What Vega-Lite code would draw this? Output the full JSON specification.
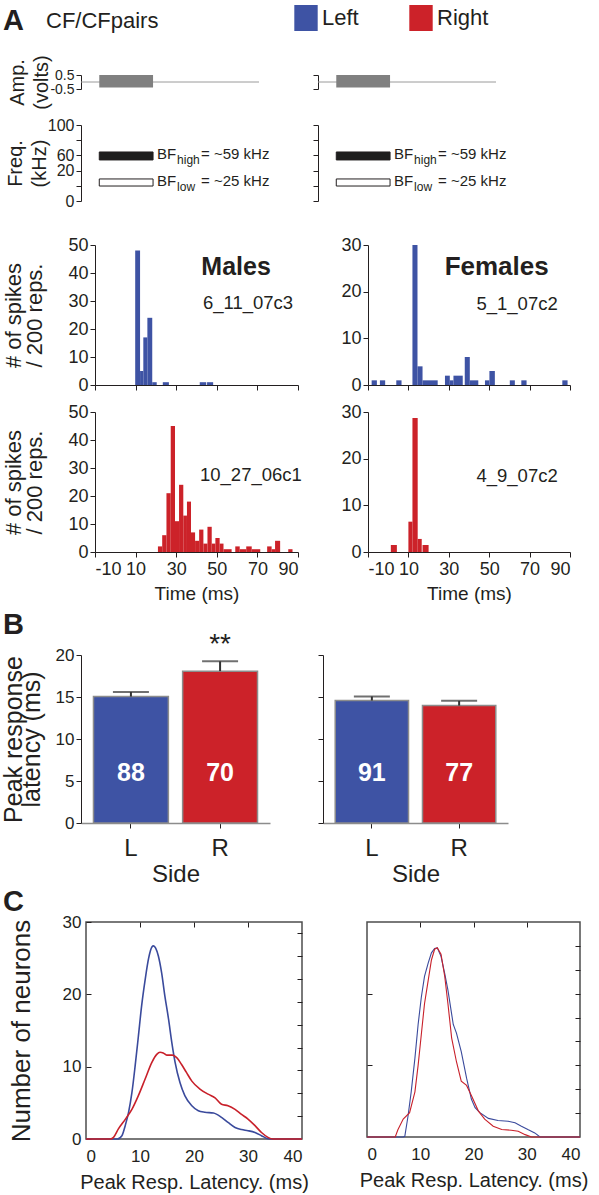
{
  "$schema": "https://vega.github.io/schema/vega-lite/v6.json",
  "padding": 0,
  "background": "white",
  "spacing": 0,
  "datasets": {
    "one": [{}],
    "stim": [
      {"part": "line", "start": -17, "end": 70.7, "lo": 0, "hi": 0},
      {"part": "tone", "start": -8, "end": 18.5, "lo": -0.4, "hi": 0.5}
    ],
    "freq": [
      {"band": "high", "start": -8, "end": 18.5, "lo": 54, "hi": 64.5, "mid": 59.2, "sub": "high", "rest": "= ~59 kHz"},
      {"band": "low", "start": -8, "end": 18.5, "lo": 19.7, "hi": 29, "mid": 24.3, "sub": "low", "rest": "= ~25 kHz"}
    ],
    "hist_m_top": [
      {"start": 9.8, "end": 12.2, "count": 48},
      {"start": 12.2, "end": 13.8, "count": 5},
      {"start": 13.8, "end": 15.8, "count": 17},
      {"start": 15.8, "end": 18.2, "count": 24},
      {"start": 18.2, "end": 20.4, "count": 1},
      {"start": 23.4, "end": 26.4, "count": 1},
      {"start": 41.6, "end": 44.8, "count": 1},
      {"start": 45.2, "end": 48.2, "count": 1}
    ],
    "hist_f_top": [
      {"start": -8.2, "end": -5.6, "count": 1},
      {"start": -4.1, "end": -1.5, "count": 1},
      {"start": 4.0, "end": 6.6, "count": 1},
      {"start": 12.0, "end": 14.5, "count": 30},
      {"start": 14.5, "end": 17.0, "count": 4},
      {"start": 17.0, "end": 24.5, "count": 1},
      {"start": 28.1, "end": 30.5, "count": 2},
      {"start": 30.5, "end": 32.3, "count": 1},
      {"start": 32.3, "end": 36.9, "count": 2},
      {"start": 37.9, "end": 40.4, "count": 6},
      {"start": 40.4, "end": 44.6, "count": 1},
      {"start": 47.9, "end": 50.1, "count": 1},
      {"start": 50.1, "end": 52.8, "count": 3},
      {"start": 60.2, "end": 62.7, "count": 1},
      {"start": 65.9, "end": 68.5, "count": 1},
      {"start": 86.2, "end": 88.8, "count": 1}
    ],
    "hist_m_bot": [
      {"start": 21.0, "end": 23.1, "count": 2},
      {"start": 23.1, "end": 25.2, "count": 6},
      {"start": 25.2, "end": 27.3, "count": 21},
      {"start": 27.3, "end": 29.4, "count": 45},
      {"start": 29.4, "end": 31.4, "count": 11},
      {"start": 31.4, "end": 33.5, "count": 24},
      {"start": 33.5, "end": 35.3, "count": 13},
      {"start": 35.3, "end": 37.3, "count": 18},
      {"start": 37.3, "end": 39.3, "count": 7},
      {"start": 39.3, "end": 41.3, "count": 4},
      {"start": 41.3, "end": 43.4, "count": 8},
      {"start": 43.4, "end": 45.4, "count": 3},
      {"start": 45.4, "end": 47.5, "count": 9},
      {"start": 47.5, "end": 49.3, "count": 3},
      {"start": 49.3, "end": 51.4, "count": 5},
      {"start": 51.4, "end": 53.3, "count": 3},
      {"start": 53.3, "end": 57.3, "count": 1},
      {"start": 59.1, "end": 61.3, "count": 2},
      {"start": 61.3, "end": 64.5, "count": 1},
      {"start": 64.5, "end": 67.2, "count": 2},
      {"start": 67.2, "end": 71.4, "count": 1},
      {"start": 74.8, "end": 77.0, "count": 2},
      {"start": 77.0, "end": 78.7, "count": 1},
      {"start": 78.7, "end": 81.2, "count": 4},
      {"start": 85.2, "end": 87.3, "count": 1}
    ],
    "hist_f_bot": [
      {"start": 1.3, "end": 4.3, "count": 1.5},
      {"start": 10.0, "end": 12.0, "count": 6.5},
      {"start": 12.0, "end": 14.6, "count": 28.7},
      {"start": 14.6, "end": 16.6, "count": 2.8},
      {"start": 17.0, "end": 20.0, "count": 1.5}
    ],
    "latency": [
      {"sex": "M", "side": "L", "hemi": "Left", "mean": 15.05, "upper": 15.6, "n": "88", "sig": ""},
      {"sex": "M", "side": "R", "hemi": "Right", "mean": 18.08, "upper": 19.25, "n": "70", "sig": "**"},
      {"sex": "F", "side": "L", "hemi": "Left", "mean": 14.58, "upper": 15.06, "n": "91", "sig": ""},
      {"sex": "F", "side": "R", "hemi": "Right", "mean": 13.98, "upper": 14.54, "n": "77", "sig": ""}
    ],
    "curves": [
      {"sex": "M", "hemi": "Left", "t": 0, "n": 0},
      {"sex": "M", "hemi": "Left", "t": 5.8, "n": 0},
      {"sex": "M", "hemi": "Left", "t": 6.65, "n": 0.46},
      {"sex": "M", "hemi": "Left", "t": 7.26, "n": 1.84},
      {"sex": "M", "hemi": "Left", "t": 7.88, "n": 3.67},
      {"sex": "M", "hemi": "Left", "t": 8.5, "n": 6.4},
      {"sex": "M", "hemi": "Left", "t": 9.1, "n": 10.1},
      {"sex": "M", "hemi": "Left", "t": 9.7, "n": 14.2},
      {"sex": "M", "hemi": "Left", "t": 10.3, "n": 18.4},
      {"sex": "M", "hemi": "Left", "t": 10.95, "n": 22},
      {"sex": "M", "hemi": "Left", "t": 11.6, "n": 25},
      {"sex": "M", "hemi": "Left", "t": 12.2, "n": 26.55},
      {"sex": "M", "hemi": "Left", "t": 12.5, "n": 26.7},
      {"sex": "M", "hemi": "Left", "t": 12.9, "n": 26.4},
      {"sex": "M", "hemi": "Left", "t": 13.4, "n": 25.3},
      {"sex": "M", "hemi": "Left", "t": 14.0, "n": 23},
      {"sex": "M", "hemi": "Left", "t": 14.6, "n": 19.8},
      {"sex": "M", "hemi": "Left", "t": 15.3, "n": 16.5},
      {"sex": "M", "hemi": "Left", "t": 15.9, "n": 13.3},
      {"sex": "M", "hemi": "Left", "t": 16.5, "n": 10.6},
      {"sex": "M", "hemi": "Left", "t": 17.4, "n": 7.8},
      {"sex": "M", "hemi": "Left", "t": 18.3, "n": 6.0},
      {"sex": "M", "hemi": "Left", "t": 19.6, "n": 4.6},
      {"sex": "M", "hemi": "Left", "t": 20.8, "n": 3.9},
      {"sex": "M", "hemi": "Left", "t": 22.0, "n": 3.7},
      {"sex": "M", "hemi": "Left", "t": 23.6, "n": 3.6},
      {"sex": "M", "hemi": "Left", "t": 25.1, "n": 3.0},
      {"sex": "M", "hemi": "Left", "t": 26.3, "n": 2.3},
      {"sex": "M", "hemi": "Left", "t": 27.6, "n": 1.6},
      {"sex": "M", "hemi": "Left", "t": 28.8, "n": 1.3},
      {"sex": "M", "hemi": "Left", "t": 30.0, "n": 1.15},
      {"sex": "M", "hemi": "Left", "t": 31.3, "n": 0.9},
      {"sex": "M", "hemi": "Left", "t": 32.5, "n": 0.46},
      {"sex": "M", "hemi": "Left", "t": 33.4, "n": 0.1},
      {"sex": "M", "hemi": "Left", "t": 34, "n": 0},
      {"sex": "M", "hemi": "Left", "t": 40, "n": 0},
      {"sex": "M", "hemi": "Right", "t": 0, "n": 0},
      {"sex": "M", "hemi": "Right", "t": 4.5, "n": 0},
      {"sex": "M", "hemi": "Right", "t": 5.1, "n": 0.23},
      {"sex": "M", "hemi": "Right", "t": 6.0, "n": 1.4},
      {"sex": "M", "hemi": "Right", "t": 7.3, "n": 2.75},
      {"sex": "M", "hemi": "Right", "t": 8.5, "n": 4.1},
      {"sex": "M", "hemi": "Right", "t": 9.7, "n": 6.0},
      {"sex": "M", "hemi": "Right", "t": 10.95, "n": 8.3},
      {"sex": "M", "hemi": "Right", "t": 12.2, "n": 10.6},
      {"sex": "M", "hemi": "Right", "t": 13.1, "n": 11.7},
      {"sex": "M", "hemi": "Right", "t": 13.7, "n": 12.0},
      {"sex": "M", "hemi": "Right", "t": 14.3, "n": 11.9},
      {"sex": "M", "hemi": "Right", "t": 14.95, "n": 11.6},
      {"sex": "M", "hemi": "Right", "t": 16.0, "n": 11.6},
      {"sex": "M", "hemi": "Right", "t": 16.8, "n": 11.25},
      {"sex": "M", "hemi": "Right", "t": 17.7, "n": 10.3},
      {"sex": "M", "hemi": "Right", "t": 18.6, "n": 9.2},
      {"sex": "M", "hemi": "Right", "t": 19.6, "n": 8.0},
      {"sex": "M", "hemi": "Right", "t": 21.1, "n": 6.9},
      {"sex": "M", "hemi": "Right", "t": 22.6, "n": 6.2},
      {"sex": "M", "hemi": "Right", "t": 23.9, "n": 5.7},
      {"sex": "M", "hemi": "Right", "t": 25.1, "n": 4.8},
      {"sex": "M", "hemi": "Right", "t": 26.3, "n": 4.6},
      {"sex": "M", "hemi": "Right", "t": 27.6, "n": 4.1},
      {"sex": "M", "hemi": "Right", "t": 28.8, "n": 3.4},
      {"sex": "M", "hemi": "Right", "t": 30.0, "n": 2.75},
      {"sex": "M", "hemi": "Right", "t": 31.3, "n": 1.84},
      {"sex": "M", "hemi": "Right", "t": 32.5, "n": 0.9},
      {"sex": "M", "hemi": "Right", "t": 33.7, "n": 0.23},
      {"sex": "M", "hemi": "Right", "t": 34.6, "n": 0},
      {"sex": "M", "hemi": "Right", "t": 40, "n": 0},
      {"sex": "F", "hemi": "Left", "t": 0, "n": 0},
      {"sex": "F", "hemi": "Left", "t": 6.8, "n": 0},
      {"sex": "F", "hemi": "Left", "t": 7.1, "n": 0.1},
      {"sex": "F", "hemi": "Left", "t": 7.7, "n": 2.9},
      {"sex": "F", "hemi": "Left", "t": 8.3, "n": 6.3},
      {"sex": "F", "hemi": "Left", "t": 9.0, "n": 11},
      {"sex": "F", "hemi": "Left", "t": 9.6, "n": 15.7},
      {"sex": "F", "hemi": "Left", "t": 10.2, "n": 19.5},
      {"sex": "F", "hemi": "Left", "t": 10.8, "n": 22.4},
      {"sex": "F", "hemi": "Left", "t": 11.5, "n": 24.3},
      {"sex": "F", "hemi": "Left", "t": 12.1, "n": 25.7},
      {"sex": "F", "hemi": "Left", "t": 12.7, "n": 26.3},
      {"sex": "F", "hemi": "Left", "t": 13.2, "n": 26.4},
      {"sex": "F", "hemi": "Left", "t": 13.9, "n": 25.2},
      {"sex": "F", "hemi": "Left", "t": 14.6, "n": 22.8},
      {"sex": "F", "hemi": "Left", "t": 15.2, "n": 20.5},
      {"sex": "F", "hemi": "Left", "t": 16.2, "n": 15.7},
      {"sex": "F", "hemi": "Left", "t": 16.8, "n": 14.5},
      {"sex": "F", "hemi": "Left", "t": 17.7, "n": 11.9},
      {"sex": "F", "hemi": "Left", "t": 18.7, "n": 8.2},
      {"sex": "F", "hemi": "Left", "t": 19.6, "n": 5.3},
      {"sex": "F", "hemi": "Left", "t": 20.3, "n": 4.1},
      {"sex": "F", "hemi": "Left", "t": 21.2, "n": 3.4},
      {"sex": "F", "hemi": "Left", "t": 22.8, "n": 2.6},
      {"sex": "F", "hemi": "Left", "t": 24.6, "n": 2.3},
      {"sex": "F", "hemi": "Left", "t": 26.5, "n": 2.2},
      {"sex": "F", "hemi": "Left", "t": 27.8, "n": 2.0},
      {"sex": "F", "hemi": "Left", "t": 29.0, "n": 1.5},
      {"sex": "F", "hemi": "Left", "t": 30.3, "n": 1.0},
      {"sex": "F", "hemi": "Left", "t": 31.5, "n": 0.57},
      {"sex": "F", "hemi": "Left", "t": 32.5, "n": 0},
      {"sex": "F", "hemi": "Left", "t": 40, "n": 0},
      {"sex": "F", "hemi": "Right", "t": 0, "n": 0},
      {"sex": "F", "hemi": "Right", "t": 5.3, "n": 0},
      {"sex": "F", "hemi": "Right", "t": 5.8, "n": 1.0},
      {"sex": "F", "hemi": "Right", "t": 6.8, "n": 2.5},
      {"sex": "F", "hemi": "Right", "t": 8.0, "n": 3.4},
      {"sex": "F", "hemi": "Right", "t": 9.0, "n": 6.3},
      {"sex": "F", "hemi": "Right", "t": 9.6, "n": 10},
      {"sex": "F", "hemi": "Right", "t": 10.2, "n": 14.3},
      {"sex": "F", "hemi": "Right", "t": 10.8, "n": 18.6},
      {"sex": "F", "hemi": "Right", "t": 11.5, "n": 21.9},
      {"sex": "F", "hemi": "Right", "t": 12.1, "n": 24.7},
      {"sex": "F", "hemi": "Right", "t": 12.7, "n": 26.2},
      {"sex": "F", "hemi": "Right", "t": 13.2, "n": 26.4},
      {"sex": "F", "hemi": "Right", "t": 13.9, "n": 25.5},
      {"sex": "F", "hemi": "Right", "t": 14.6, "n": 22.4},
      {"sex": "F", "hemi": "Right", "t": 15.2, "n": 18.6},
      {"sex": "F", "hemi": "Right", "t": 15.9, "n": 13.8},
      {"sex": "F", "hemi": "Right", "t": 16.8, "n": 10.5},
      {"sex": "F", "hemi": "Right", "t": 17.7, "n": 7.8},
      {"sex": "F", "hemi": "Right", "t": 18.7, "n": 7.2},
      {"sex": "F", "hemi": "Right", "t": 19.6, "n": 5.8},
      {"sex": "F", "hemi": "Right", "t": 20.9, "n": 3.65},
      {"sex": "F", "hemi": "Right", "t": 22.1, "n": 2.5},
      {"sex": "F", "hemi": "Right", "t": 23.7, "n": 1.5},
      {"sex": "F", "hemi": "Right", "t": 25.3, "n": 1.04},
      {"sex": "F", "hemi": "Right", "t": 27.1, "n": 0.95},
      {"sex": "F", "hemi": "Right", "t": 28.4, "n": 0.8},
      {"sex": "F", "hemi": "Right", "t": 29.7, "n": 0.33},
      {"sex": "F", "hemi": "Right", "t": 30.9, "n": 0},
      {"sex": "F", "hemi": "Right", "t": 40, "n": 0}
    ]
  },
  "vconcat": [
    {
      "width": 10, "height": 54,
      "data": {"name": "one"},
      "encoding": {
        "x": {"datum": 0, "type": "quantitative", "scale": {"domain": [0, 1]}, "axis": null},
        "y": {"datum": 1, "type": "quantitative", "scale": {"domain": [0, 1]}, "axis": null}
      },
      "layer": [
        {"mark": {"type": "text", "text": "A", "fontSize": 29, "fontWeight": "bold", "align": "left", "baseline": "alphabetic", "dx": 3, "dy": 30}},
        {"mark": {"type": "text", "text": "CF/CFpairs", "fontSize": 22, "align": "left", "baseline": "alphabetic", "dx": 46, "dy": 28}}
      ]
    },
    {
      "hconcat": [
        {"width": 81, "height": 42, "data": {"values": []}, "mark": "point"},
        {
          "width": 178, "height": 14,
          "data": {"name": "stim"},
          "encoding": {
            "x": {"field": "start", "type": "quantitative", "scale": {"domain": [-17, 70.7], "nice": false, "zero": false}, "axis": null},
            "x2": {"field": "end"},
            "y": {"field": "lo", "type": "quantitative", "scale": {"domain": [-0.5, 0.5], "nice": false, "zero": false},
                  "axis": {"values": [-0.5, 0.5], "labelExpr": "datum.value < 0 ? '-0.5' : '0.5'", "labelFontSize": 14, "tickSize": 5, "labelPadding": 2, "labelOverlap": false, "labelBound": false, "title": ["Amp.", "(volts)"], "titleFontSize": 20, "titleLineHeight": 24, "titlePadding": -2}},
            "y2": {"field": "hi"}
          },
          "layer": [
            {"transform": [{"filter": "datum.part == 'line'"}], "mark": {"type": "rule", "color": "#9a9a9a", "strokeWidth": 1}},
            {"transform": [{"filter": "datum.part == 'tone'"}], "mark": {"type": "rect", "color": "#808080"}}
          ]
        },
        {"width": 59, "height": 1, "data": {"values": []}, "mark": "point"},
        {
          "width": 178, "height": 14,
          "data": {"name": "stim"},
          "encoding": {
            "x": {"field": "start", "type": "quantitative", "scale": {"domain": [-17, 70.7], "nice": false, "zero": false}, "axis": null},
            "x2": {"field": "end"},
            "y": {"field": "lo", "type": "quantitative", "scale": {"domain": [-0.5, 0.5], "nice": false, "zero": false},
                  "axis": {"values": [-0.5, 0.5], "labels": false, "tickSize": 5, "title": null}},
            "y2": {"field": "hi"}
          },
          "layer": [
            {"transform": [{"filter": "datum.part == 'line'"}], "mark": {"type": "rule", "color": "#9a9a9a", "strokeWidth": 1}},
            {"transform": [{"filter": "datum.part == 'tone'"}], "mark": {"type": "rect", "color": "#808080"}}
          ]
        }
      ],
      "spacing": 0, "bounds": "flush"
    },
    {
      "hconcat": [
        {"width": 81, "height": 111, "data": {"values": []}, "mark": "point"},
        {
          "width": 178, "height": 76,
          "data": {"name": "freq"},
          "layer": [
            {"mark": {"type": "rect", "stroke": "#231f20", "strokeWidth": 1},
             "encoding": {
               "x": {"field": "start", "type": "quantitative", "scale": {"domain": [-17, 70.7], "nice": false, "zero": false}, "axis": null},
               "x2": {"field": "end"},
               "y": {"field": "lo", "type": "quantitative", "scale": {"domain": [0, 100], "nice": false},
                     "axis": {"values": [0, 20, 40, 60, 80, 100], "labelExpr": "datum.value == 100 ? '100' : datum.value == 60 ? '60' : datum.value == 40 ? '20' : datum.value == 0 ? '0' : ''", "labelFontSize": 16, "tickSize": 5, "labelPadding": 2, "labelOverlap": false, "labelBound": false, "title": ["Freq.", "(kHz)"], "titleFontSize": 20, "titleLineHeight": 24, "titlePadding": -2}},
               "y2": {"field": "hi"},
               "fill": {"field": "band", "type": "nominal", "scale": {"domain": ["high", "low"], "range": ["#1e1e1e", "#ffffff"]}, "legend": null}
             }},
            {"mark": {"type": "text", "text": "BF", "align": "left", "baseline": "middle", "dx": 4, "dy": -2, "fontSize": 15},
             "encoding": {"x": {"field": "end", "type": "quantitative", "axis": null},
                          "y": {"field": "mid", "type": "quantitative", "axis": {"values": [0, 20, 40, 60, 80, 100], "labelExpr": "datum.value == 100 ? '100' : datum.value == 60 ? '60' : datum.value == 40 ? '20' : datum.value == 0 ? '0' : ''", "labelFontSize": 16, "tickSize": 5, "labelPadding": 2, "labelOverlap": false, "labelBound": false, "title": ["Freq.", "(kHz)"], "titleFontSize": 20, "titleLineHeight": 24, "titlePadding": -2}}}},
            {"mark": {"type": "text", "align": "left", "baseline": "middle", "dx": 24, "dy": 4, "fontSize": 12},
             "encoding": {"x": {"field": "end", "type": "quantitative", "axis": null},
                          "y": {"field": "mid", "type": "quantitative", "axis": {"values": [0, 20, 40, 60, 80, 100], "labelExpr": "datum.value == 100 ? '100' : datum.value == 60 ? '60' : datum.value == 40 ? '20' : datum.value == 0 ? '0' : ''", "labelFontSize": 16, "tickSize": 5, "labelPadding": 2, "labelOverlap": false, "labelBound": false, "title": ["Freq.", "(kHz)"], "titleFontSize": 20, "titleLineHeight": 24, "titlePadding": -2}},
                          "text": {"field": "sub"}}},
            {"mark": {"type": "text", "align": "left", "baseline": "middle", "dx": 48, "dy": -2, "fontSize": 15},
             "encoding": {"x": {"field": "end", "type": "quantitative", "axis": null},
                          "y": {"field": "mid", "type": "quantitative", "axis": {"values": [0, 20, 40, 60, 80, 100], "labelExpr": "datum.value == 100 ? '100' : datum.value == 60 ? '60' : datum.value == 40 ? '20' : datum.value == 0 ? '0' : ''", "labelFontSize": 16, "tickSize": 5, "labelPadding": 2, "labelOverlap": false, "labelBound": false, "title": ["Freq.", "(kHz)"], "titleFontSize": 20, "titleLineHeight": 24, "titlePadding": -2}},
                          "text": {"field": "rest"}}}
          ]
        },
        {"width": 59, "height": 1, "data": {"values": []}, "mark": "point"},
        {
          "width": 178, "height": 76,
          "data": {"name": "freq"},
          "layer": [
            {"mark": {"type": "rect", "stroke": "#231f20", "strokeWidth": 1},
             "encoding": {
               "x": {"field": "start", "type": "quantitative", "scale": {"domain": [-17, 70.7], "nice": false, "zero": false}, "axis": null},
               "x2": {"field": "end"},
               "y": {"field": "lo", "type": "quantitative", "scale": {"domain": [0, 100], "nice": false},
                     "axis": {"values": [0, 20, 40, 60, 80, 100], "labels": false, "tickSize": 5, "title": null}},
               "y2": {"field": "hi"},
               "fill": {"field": "band", "type": "nominal", "scale": {"domain": ["high", "low"], "range": ["#1e1e1e", "#ffffff"]}, "legend": null}
             }},
            {"mark": {"type": "text", "text": "BF", "align": "left", "baseline": "middle", "dx": 4, "dy": -2, "fontSize": 15},
             "encoding": {"x": {"field": "end", "type": "quantitative", "axis": null},
                          "y": {"field": "mid", "type": "quantitative", "axis": {"values": [0, 20, 40, 60, 80, 100], "labels": false, "tickSize": 5, "title": null}}}},
            {"mark": {"type": "text", "align": "left", "baseline": "middle", "dx": 24, "dy": 4, "fontSize": 12},
             "encoding": {"x": {"field": "end", "type": "quantitative", "axis": null},
                          "y": {"field": "mid", "type": "quantitative", "axis": {"values": [0, 20, 40, 60, 80, 100], "labels": false, "tickSize": 5, "title": null}},
                          "text": {"field": "sub"}}},
            {"mark": {"type": "text", "align": "left", "baseline": "middle", "dx": 48, "dy": -2, "fontSize": 15},
             "encoding": {"x": {"field": "end", "type": "quantitative", "axis": null},
                          "y": {"field": "mid", "type": "quantitative", "axis": {"values": [0, 20, 40, 60, 80, 100], "labels": false, "tickSize": 5, "title": null}},
                          "text": {"field": "rest"}}}
          ]
        }
      ],
      "spacing": 0, "bounds": "flush"
    },
    {
      "hconcat": [
        {"width": 95, "height": 158, "data": {"values": []}, "mark": "point"},
        {
          "width": 203, "height": 140,
          "layer": [
            {"data": {"name": "hist_m_top"},
             "mark": {"type": "bar", "color": "#3e53a4"},
             "encoding": {
               "x": {"field": "start", "type": "quantitative", "scale": {"domain": [-10, 90], "nice": false, "zero": false}, "axis": {"values": [-10, 10, 30, 50, 70, 90], "labels": false, "tickSize": 5, "title": null}},
               "x2": {"field": "end"},
               "y": {"field": "count", "type": "quantitative", "scale": {"domain": [0, 50], "nice": false}, "axis": {"values": [0, 10, 20, 30, 40, 50], "labelFontSize": 18, "tickSize": 5, "labelPadding": 2, "title": ["# of spikes", "/ 200 reps."], "titleFontSize": 22, "titleLineHeight": 21, "titlePadding": 21}},
               "y2": {"datum": 0}
             }},
            {"data": {"name": "one"},
             "mark": {"type": "text", "text": "Males", "fontSize": 25, "fontWeight": "bold", "baseline": "middle"},
             "encoding": {"x": {"datum": 59.5, "type": "quantitative", "axis": {"values": [-10, 10, 30, 50, 70, 90], "labels": false, "tickSize": 5, "title": null}},
                          "y": {"datum": 42.3, "type": "quantitative", "axis": {"values": [0, 10, 20, 30, 40, 50], "labelFontSize": 18, "tickSize": 5, "labelPadding": 2, "title": ["# of spikes", "/ 200 reps."], "titleFontSize": 22, "titleLineHeight": 21, "titlePadding": 21}}}},
            {"data": {"name": "one"},
             "mark": {"type": "text", "text": "6_11_07c3", "fontSize": 18.5, "baseline": "middle"},
             "encoding": {"x": {"datum": 65.4, "type": "quantitative", "axis": {"values": [-10, 10, 30, 50, 70, 90], "labels": false, "tickSize": 5, "title": null}},
                          "y": {"datum": 29.2, "type": "quantitative", "axis": {"values": [0, 10, 20, 30, 40, 50], "labelFontSize": 18, "tickSize": 5, "labelPadding": 2, "title": ["# of spikes", "/ 200 reps."], "titleFontSize": 22, "titleLineHeight": 21, "titlePadding": 21}}}}
          ]
        },
        {"width": 70, "height": 1, "data": {"values": []}, "mark": "point"},
        {
          "width": 202, "height": 140,
          "layer": [
            {"data": {"name": "hist_f_top"},
             "mark": {"type": "bar", "color": "#3e53a4"},
             "encoding": {
               "x": {"field": "start", "type": "quantitative", "scale": {"domain": [-10, 90], "nice": false, "zero": false}, "axis": {"values": [-10, 10, 30, 50, 70, 90], "labels": false, "tickSize": 5, "title": null}},
               "x2": {"field": "end"},
               "y": {"field": "count", "type": "quantitative", "scale": {"domain": [0, 30], "nice": false}, "axis": {"values": [0, 10, 20, 30], "labelFontSize": 18, "tickSize": 5, "labelPadding": 2, "title": null}},
               "y2": {"datum": 0}
             }},
            {"data": {"name": "one"},
             "mark": {"type": "text", "text": "Females", "fontSize": 26, "fontWeight": "bold", "baseline": "middle"},
             "encoding": {"x": {"datum": 53.7, "type": "quantitative", "axis": {"values": [-10, 10, 30, 50, 70, 90], "labels": false, "tickSize": 5, "title": null}},
                          "y": {"datum": 25.3, "type": "quantitative", "axis": {"values": [0, 10, 20, 30], "labelFontSize": 18, "tickSize": 5, "labelPadding": 2, "title": null}}}},
            {"data": {"name": "one"},
             "mark": {"type": "text", "text": "5_1_07c2", "fontSize": 18.5, "baseline": "middle"},
             "encoding": {"x": {"datum": 63.8, "type": "quantitative", "axis": {"values": [-10, 10, 30, 50, 70, 90], "labels": false, "tickSize": 5, "title": null}},
                          "y": {"datum": 17.4, "type": "quantitative", "axis": {"values": [0, 10, 20, 30], "labelFontSize": 18, "tickSize": 5, "labelPadding": 2, "title": null}}}}
          ]
        }
      ],
      "spacing": 0, "bounds": "flush"
    },
    {
      "hconcat": [
        {"width": 95, "height": 199, "data": {"values": []}, "mark": "point"},
        {
          "width": 203, "height": 140,
          "layer": [
            {"data": {"name": "hist_m_bot"},
             "mark": {"type": "bar", "color": "#cc2229"},
             "encoding": {
               "x": {"field": "start", "type": "quantitative", "scale": {"domain": [-10, 90], "nice": false, "zero": false}, "axis": {"values": [-10, 10, 30, 50, 70, 90], "labelExpr": "datum.value < 0 ? '-' + (-datum.value) : '' + datum.value", "labelFontSize": 18, "labelPadding": 3, "tickSize": 5, "title": "Time (ms)", "titleFontSize": 19, "titlePadding": 6}},
               "x2": {"field": "end"},
               "y": {"field": "count", "type": "quantitative", "scale": {"domain": [0, 50], "nice": false}, "axis": {"values": [0, 10, 20, 30, 40, 50], "labelFontSize": 18, "tickSize": 5, "labelPadding": 2, "title": ["# of spikes", "/ 200 reps."], "titleFontSize": 22, "titleLineHeight": 21, "titlePadding": 21}},
               "y2": {"datum": 0}
             }},
            {"data": {"name": "one"},
             "mark": {"type": "text", "text": "10_27_06c1", "fontSize": 18.5, "baseline": "middle"},
             "encoding": {"x": {"datum": 66.8, "type": "quantitative", "axis": {"values": [-10, 10, 30, 50, 70, 90], "labelExpr": "datum.value < 0 ? '-' + (-datum.value) : '' + datum.value", "labelFontSize": 18, "labelPadding": 3, "tickSize": 5, "title": "Time (ms)", "titleFontSize": 19, "titlePadding": 6}},
                          "y": {"datum": 27.4, "type": "quantitative", "axis": {"values": [0, 10, 20, 30, 40, 50], "labelFontSize": 18, "tickSize": 5, "labelPadding": 2, "title": ["# of spikes", "/ 200 reps."], "titleFontSize": 22, "titleLineHeight": 21, "titlePadding": 21}}}}
          ]
        },
        {"width": 70, "height": 1, "data": {"values": []}, "mark": "point"},
        {
          "width": 202, "height": 140,
          "layer": [
            {"data": {"name": "hist_f_bot"},
             "mark": {"type": "bar", "color": "#cc2229"},
             "encoding": {
               "x": {"field": "start", "type": "quantitative", "scale": {"domain": [-10, 90], "nice": false, "zero": false}, "axis": {"values": [-10, 10, 30, 50, 70, 90], "labelExpr": "datum.value < 0 ? '-' + (-datum.value) : '' + datum.value", "labelFontSize": 18, "labelPadding": 3, "tickSize": 5, "title": "Time (ms)", "titleFontSize": 19, "titlePadding": 6}},
               "x2": {"field": "end"},
               "y": {"field": "count", "type": "quantitative", "scale": {"domain": [0, 30], "nice": false}, "axis": {"values": [0, 10, 20, 30], "labelFontSize": 18, "tickSize": 5, "labelPadding": 2, "title": null}},
               "y2": {"datum": 0}
             }},
            {"data": {"name": "one"},
             "mark": {"type": "text", "text": "4_9_07c2", "fontSize": 18.5, "baseline": "middle"},
             "encoding": {"x": {"datum": 63.8, "type": "quantitative", "axis": {"values": [-10, 10, 30, 50, 70, 90], "labelExpr": "datum.value < 0 ? '-' + (-datum.value) : '' + datum.value", "labelFontSize": 18, "labelPadding": 3, "tickSize": 5, "title": "Time (ms)", "titleFontSize": 19, "titlePadding": 6}},
                          "y": {"datum": 16.2, "type": "quantitative", "axis": {"values": [0, 10, 20, 30], "labelFontSize": 18, "tickSize": 5, "labelPadding": 2, "title": null}}}}
          ]
        }
      ],
      "spacing": 0, "bounds": "flush"
    },
    {
      "hconcat": [
        {
          "width": 81, "height": 233,
          "data": {"name": "one"},
          "mark": {"type": "text", "text": "B", "fontSize": 29, "fontWeight": "bold", "align": "left", "baseline": "alphabetic", "dx": 3, "dy": -21},
          "encoding": {
            "x": {"datum": 0, "type": "quantitative", "scale": {"domain": [0, 1]}, "axis": null},
            "y": {"datum": 1, "type": "quantitative", "scale": {"domain": [0, 1]}, "axis": null}
          }
        },
        {
          "width": 189, "height": 168,
          "data": {"name": "latency"},
          "transform": [{"filter": "datum.sex == 'M'"}],
          "encoding": {
            "x": {"field": "side", "type": "nominal", "sort": ["L", "R"], "scale": {"paddingInner": 0.16, "paddingOuter": 0.14},
                  "axis": {"labelAngle": 0, "labelFontSize": 24, "labelPadding": 8, "tickSize": 5, "domainColor": "#8c8c8c", "domainWidth": 1.5, "title": "Side", "titleFontSize": 24, "titlePadding": 2}}
          },
          "layer": [
            {"mark": {"type": "bar", "stroke": "#8c8c8c", "strokeWidth": 1.5},
             "encoding": {
               "y": {"field": "mean", "type": "quantitative", "scale": {"domain": [0, 20], "nice": false},
                     "axis": {"values": [0, 5, 10, 15, 20], "labelFontSize": 17, "tickSize": 5, "title": ["Peak response", "latency (ms)"], "titleFontSize": 25, "titleLineHeight": 18, "titlePadding": 11}},
               "color": {"field": "hemi", "type": "nominal", "scale": {"domain": ["Left", "Right"], "range": ["#3e53a4", "#cc2229"]},
                         "legend": {"orient": "none", "legendX": 293, "legendY": 5, "direction": "horizontal", "title": null, "symbolType": "M-0.9,-1H0.9V1H-0.9Z", "symbolSize": 676, "symbolStrokeWidth": 0, "symbolOpacity": 1, "labelFontSize": 22, "labelOffset": 3, "columnPadding": 49, "labelColor": "#231f20"}}
             }},
            {"mark": {"type": "rule", "color": "#333333", "strokeWidth": 2},
             "encoding": {"y": {"field": "mean", "type": "quantitative"}, "y2": {"field": "upper"}}},
            {"mark": {"type": "tick", "color": "#333333", "thickness": 2, "size": 36},
             "encoding": {"y": {"field": "upper", "type": "quantitative"}}},
            {"mark": {"type": "text", "color": "white", "fontSize": 25, "fontWeight": "bold", "baseline": "middle"},
             "encoding": {"y": {"datum": 6}, "text": {"field": "n"}}},
            {"mark": {"type": "text", "fontSize": 28, "baseline": "middle", "dy": -16},
             "encoding": {"y": {"field": "upper", "type": "quantitative"}, "text": {"field": "sig"}}}
          ]
        },
        {"width": 53, "height": 1, "data": {"values": []}, "mark": "point"},
        {
          "width": 185, "height": 168,
          "data": {"name": "latency"},
          "transform": [{"filter": "datum.sex == 'F'"}],
          "encoding": {
            "x": {"field": "side", "type": "nominal", "sort": ["L", "R"], "scale": {"paddingInner": 0.16, "paddingOuter": 0.14},
                  "axis": {"labelAngle": 0, "labelFontSize": 24, "labelPadding": 8, "tickSize": 5, "domainColor": "#8c8c8c", "domainWidth": 1.5, "title": "Side", "titleFontSize": 24, "titlePadding": 2}}
          },
          "layer": [
            {"mark": {"type": "bar", "stroke": "#8c8c8c", "strokeWidth": 1.5},
             "encoding": {
               "y": {"field": "mean", "type": "quantitative", "scale": {"domain": [0, 20], "nice": false},
                     "axis": {"values": [0, 5, 10, 15, 20], "labels": false, "tickSize": 5, "title": null}},
               "color": {"field": "hemi", "type": "nominal", "scale": {"domain": ["Left", "Right"], "range": ["#3e53a4", "#cc2229"]}, "legend": null}
             }},
            {"mark": {"type": "rule", "color": "#333333", "strokeWidth": 2},
             "encoding": {"y": {"field": "mean", "type": "quantitative"}, "y2": {"field": "upper"}}},
            {"mark": {"type": "tick", "color": "#333333", "thickness": 2, "size": 36},
             "encoding": {"y": {"field": "upper", "type": "quantitative"}}},
            {"mark": {"type": "text", "color": "white", "fontSize": 25, "fontWeight": "bold", "baseline": "middle"},
             "encoding": {"y": {"datum": 6}, "text": {"field": "n"}}}
          ]
        }
      ],
      "spacing": 0, "bounds": "flush"
    },
    {
      "hconcat": [
        {
          "width": 85.7, "height": 217,
          "data": {"name": "one"},
          "mark": {"type": "text", "text": "C", "fontSize": 29, "fontWeight": "bold", "align": "left", "baseline": "alphabetic", "dx": 3, "dy": -11},
          "encoding": {
            "x": {"datum": 0, "type": "quantitative", "scale": {"domain": [0, 1]}, "axis": null},
            "y": {"datum": 1, "type": "quantitative", "scale": {"domain": [0, 1]}, "axis": null}
          }
        },
        {
          "width": 216, "height": 217,
          "view": {"stroke": "#4d4d4d", "strokeWidth": 1.5},
          "data": {"name": "curves"},
          "transform": [{"filter": "datum.sex == 'M'"}],
          "layer": [
            {"mark": {"type": "line", "strokeWidth": 1.6, "interpolate": "monotone"},
             "encoding": {
               "x": {"field": "t", "type": "quantitative", "scale": {"domain": [0, 40], "nice": false},
                     "axis": {"orient": "bottom", "values": [0, 10, 20, 30, 40], "ticks": false, "domain": false, "labelFontSize": 17, "labelPadding": 9, "title": "Peak Resp. Latency. (ms)", "titleFontSize": 20, "titlePadding": 8}},
               "y": {"field": "n", "type": "quantitative", "scale": {"domain": [0, 30], "nice": false},
                     "axis": {"orient": "left", "values": [0, 10, 20, 30], "tickSize": -5, "domain": false, "labelFontSize": 17, "labelPadding": 10, "title": "Number of neurons", "titleFontSize": 26, "titlePadding": 28}},
               "stroke": {"field": "hemi", "type": "nominal", "scale": {"domain": ["Left", "Right"], "range": ["#3a4a9c", "#c8202a"]}, "legend": null}
             }},
            {"mark": {"type": "point", "opacity": 0},
             "encoding": {
               "x": {"field": "t", "type": "quantitative", "axis": {"orient": "top", "values": [10, 20, 30], "tickSize": -5, "labels": false, "domain": false, "title": null}},
               "y": {"field": "n", "type": "quantitative", "axis": {"orient": "right", "values": [3.16, 6.32, 9.48, 12.64, 15.8, 18.96, 22.12, 25.28, 28.44], "tickSize": -5, "labels": false, "domain": false, "title": null}}
             }}
          ],
          "resolve": {"axis": {"x": "independent", "y": "independent"}}
        },
        {"width": 65, "height": 1, "data": {"values": []}, "mark": "point"},
        {
          "width": 213, "height": 215,
          "view": {"stroke": "#4d4d4d", "strokeWidth": 1.5},
          "data": {"name": "curves"},
          "transform": [{"filter": "datum.sex == 'F'"}],
          "layer": [
            {"mark": {"type": "line", "strokeWidth": 1.1},
             "encoding": {
               "x": {"field": "t", "type": "quantitative", "scale": {"domain": [0, 40], "nice": false},
                     "axis": {"orient": "bottom", "values": [0, 10, 20, 30, 40], "ticks": false, "domain": false, "labelFontSize": 17, "labelPadding": 9, "title": "Peak Resp. Latency. (ms)", "titleFontSize": 20, "titlePadding": 8}},
               "y": {"field": "n", "type": "quantitative", "scale": {"domain": [0, 30], "nice": false},
                     "axis": {"orient": "left", "values": [10, 20], "tickSize": -5, "domain": false, "labels": false, "title": null}},
               "stroke": {"field": "hemi", "type": "nominal", "scale": {"domain": ["Left", "Right"], "range": ["#3a4a9c", "#c8202a"]}, "legend": null}
             }},
            {"mark": {"type": "point", "opacity": 0},
             "encoding": {
               "x": {"field": "t", "type": "quantitative", "axis": {"orient": "top", "values": [10, 20, 30], "tickSize": -5, "labels": false, "domain": false, "title": null}},
               "y": {"field": "n", "type": "quantitative", "axis": {"orient": "right", "values": [3.33, 6.67, 10, 13.33, 16.67, 20, 23.33, 26.67], "tickSize": -5, "labels": false, "domain": false, "title": null}}
             }}
          ],
          "resolve": {"axis": {"x": "independent", "y": "independent"}}
        }
      ],
      "spacing": 0, "bounds": "flush"
    }
  ],
  "config": {
    "view": {"stroke": null},
    "font": "Liberation Sans",
    "text": {"font": "Liberation Sans", "color": "#231f20"},
    "title": {"font": "Liberation Sans", "color": "#231f20"},
    "legend": {"labelFont": "Liberation Sans"},
    "axis": {"labelFont": "Liberation Sans", "titleFont": "Liberation Sans", "labelColor": "#231f20", "titleColor": "#231f20", "domainColor": "#231f20", "tickColor": "#231f20", "titleFontWeight": "normal", "grid": false}
  }
}
